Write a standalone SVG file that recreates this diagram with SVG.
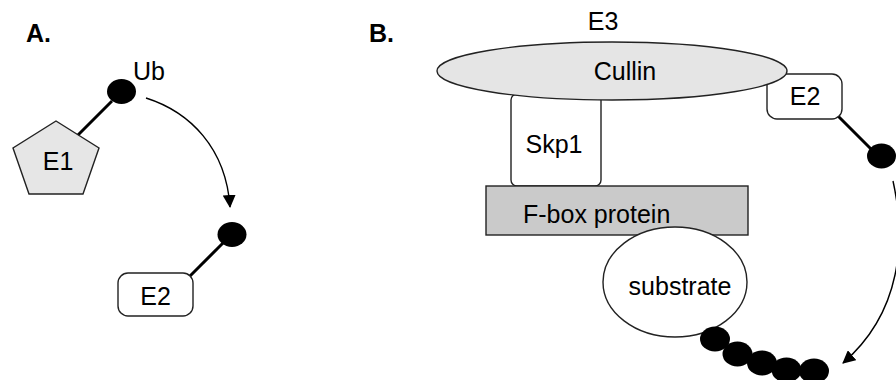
<svg xmlns="http://www.w3.org/2000/svg" width="896" height="380" viewBox="0 0 896 380">
<style>
text{font-family:"Liberation Sans",Arial,sans-serif;font-size:25px;fill:#000}
.lbl{font-weight:bold;font-size:25px}
.shape{stroke:#222;stroke-width:1.4}
.ub{fill:#000}
.stick{stroke:#000;stroke-width:3;fill:none}
.arc{stroke:#000;stroke-width:1.4;fill:none;marker-end:url(#ah)}
</style>
<defs>
<marker id="ah" viewBox="0 0 13 13" refX="12" refY="6.5" markerWidth="13" markerHeight="13" markerUnits="userSpaceOnUse" orient="auto">
<path d="M0,0 L13,6.5 L0,13 Z" fill="#000"/>
</marker>
</defs>
<rect width="896" height="380" fill="#fff"/>
<text class="lbl" x="26" y="42">A.</text>
<text class="lbl" x="369" y="42">B.</text>

<g id="connectors">
<line class="stick" x1="112" y1="101" x2="77" y2="136"/>
<line class="stick" x1="224" y1="242" x2="189" y2="277"/>
<line class="stick" x1="838" y1="116" x2="873" y2="151"/>
<path class="arc" d="M146,98 C190,112 226,148 230,207"/>
<path class="arc" d="M893,181 C906,240 902,312 843,363"/>
</g>

<g id="ub-a1"><ellipse class="ub" cx="121.5" cy="91.5" rx="14.5" ry="12.5"/><text x="133" y="80">Ub</text></g>
<g id="e1"><polygon class="shape" fill="#e6e6e6" points="56,121 99,148 83,194 29,194 13,148"/><text x="58" y="170" text-anchor="middle">E1</text></g>
<g id="ub-a2"><ellipse class="ub" cx="232" cy="234.5" rx="14.5" ry="12.5"/></g>
<g id="e2-a"><rect class="shape" fill="#fff" x="118" y="273" width="75" height="43" rx="10"/><text x="155.5" y="305" text-anchor="middle">E2</text></g>

<g id="skp1"><rect class="shape" fill="#fff" x="511" y="94" width="90" height="92" rx="6"/><text x="554" y="153" text-anchor="middle">Skp1</text></g>
<g id="e2-b"><rect class="shape" fill="#fff" x="767" y="74" width="75" height="45" rx="10"/><text x="805" y="105" text-anchor="middle">E2</text></g>
<g id="cullin"><ellipse class="shape" fill="#e5e5e5" cx="612" cy="71" rx="175" ry="29"/><text x="625" y="80" text-anchor="middle">Cullin</text><text x="603" y="30" text-anchor="middle">E3</text></g>
<g id="fbox"><rect class="shape" fill="#cacaca" x="486" y="186" width="262" height="49"/><text x="523" y="223">F-box protein</text></g>
<g id="substrate"><ellipse class="shape" fill="#fff" cx="675" cy="282" rx="72" ry="55"/><text x="680" y="295" text-anchor="middle">substrate</text></g>
<g id="ub-b1"><ellipse class="ub" cx="881.5" cy="156" rx="14.5" ry="12.5"/></g>
<g id="ub-chain">
<ellipse class="ub" cx="715" cy="339" rx="15" ry="12.5"/>
<ellipse class="ub" cx="737.5" cy="354" rx="15" ry="12.5"/>
<ellipse class="ub" cx="762" cy="363" rx="15" ry="12.5"/>
<ellipse class="ub" cx="786.5" cy="370" rx="15" ry="12.5"/>
<ellipse class="ub" cx="814" cy="371" rx="15" ry="12.5"/>
</g>
</svg>
